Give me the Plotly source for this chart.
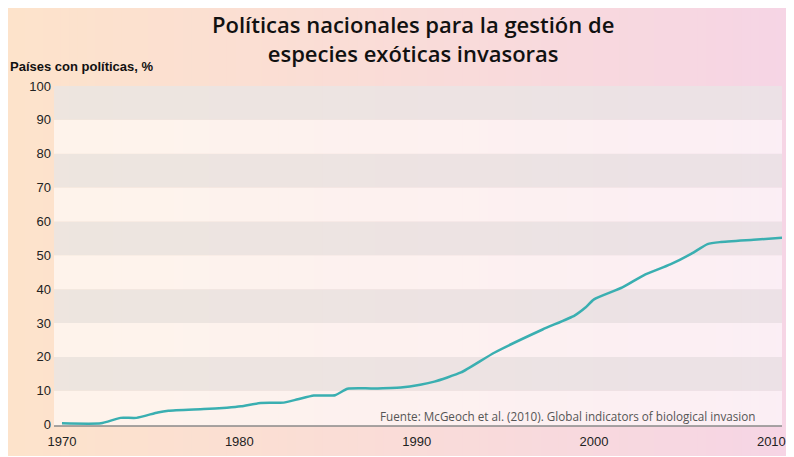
import plotly.graph_objects as go

# Data
years = [1970, 1972.2, 1973.3, 1974.2, 1975.4, 1976.0, 1978.0, 1979.3, 1980.1,
         1981.2, 1982.5, 1983.3, 1984.2, 1985.4, 1986.1, 1987.5, 1989.1, 1990.2,
         1991.0, 1992.5, 1994.4, 1997.1, 1998.9, 1999.5, 2000.0, 2001.6, 2002.8,
         2004.3, 2005.5, 2006.4, 2007.1, 2009.0, 2010.6]
pct_countries = [0.4, 0.4, 2.0, 2.0, 3.6, 4.1, 4.6, 5.0, 5.4,
                 6.4, 6.5, 7.5, 8.6, 8.7, 10.6, 10.7, 11.0, 11.8,
                 12.7, 15.4, 21.3, 28.1, 32.2, 34.5, 37.0, 40.5, 44.1,
                 47.3, 50.5, 53.3, 53.9, 54.6, 55.2]
x_ticks = [1970, 1980, 1990, 2000, 2010]
y_ticks = [0, 10, 20, 30, 40, 50, 60, 70, 80, 90, 100]

title = "Políticas nacionales para la gestión de<br>especies exóticas invasoras"
y_label = "Países con políticas, %"
source = "Fuente: McGeoch et al. (2010). Global indicators of biological invasion"

# the page body has an 8px margin, so the figure sits at (8, 8)
OFF = 8
PAGE_W, PAGE_H = 794, 457
W, H = PAGE_W - OFF, PAGE_H - OFF
# plot area in page pixels: x 54..782, y 86.5..426.5
L, R, T, B = 54 - OFF, PAGE_W - 782, 86 - OFF, PAGE_H - 426
pw, ph = W - L - R, H - T - B

def px_x(p):  # page pixel -> paper x
    return (p - OFF - L) / pw

def px_y(p):  # page pixel -> paper y
    return (H - B - (p - OFF)) / ph

# background gradient peach -> pink, drawn as thin strips
c0 = (253, 227, 203)
c1 = (246, 213, 229)
shapes = []
n = 90
x_start, x_end = OFF, PAGE_W
for i in range(n):
    t = i / (n - 1)
    col = tuple(round(a + (b - a) * t) for a, b in zip(c0, c1))
    xa = x_start + (x_end - x_start) * i / n
    xb = x_start + (x_end - x_start) * (i + 1) / n + 1
    shapes.append(dict(type="rect", xref="paper", yref="paper",
                       x0=px_x(xa), x1=px_x(xb), y0=px_y(PAGE_H - 1), y1=px_y(OFF),
                       fillcolor="rgb(%d,%d,%d)" % col, line_width=0, layer="below"))

# alternating horizontal bands
for lo in range(0, 100, 10):
    dark = (lo // 10) % 2 == 1
    shapes.append(dict(type="rect", xref="paper", yref="y",
                       x0=0, x1=1, y0=lo if lo else -0.4, y1=lo + 10,
                       fillcolor="rgba(232,230,230,0.72)" if dark else "rgba(255,255,255,0.6)",
                       line_width=0, layer="below"))

fig = go.Figure()
fig.add_trace(go.Scatter(x=years, y=pct_countries, mode="lines",
                         line=dict(color="#3aafb1", width=2.5, shape="spline", smoothing=0.5),
                         hoverinfo="x+y"))

fig.update_layout(
    width=W, height=H,
    margin=dict(l=L, r=R, t=T, b=B),
    paper_bgcolor="white",
    plot_bgcolor="rgba(0,0,0,0)",
    showlegend=False,
    shapes=shapes,
    font=dict(family="Liberation Sans, Arial", size=13, color="#222"),
    xaxis=dict(range=[1969.55, 2010.6], tickvals=x_ticks, showgrid=False,
               zeroline=False, showline=False, ticks="", ticklabelstandoff=6,
               automargin=False, tickfont=dict(size=13, color="#222")),
    yaxis=dict(range=[-0.4, 100], tickvals=y_ticks, showgrid=False,
               zeroline=False, showline=False, ticks="", ticklabelstandoff=2,
               automargin=False, tickfont=dict(size=13, color="#222")),
    annotations=[
        dict(text=title, xref="paper", yref="paper",
             x=px_x(413), y=px_y(38), xanchor="center", yanchor="middle",
             showarrow=False,
             font=dict(family="Open Sans", size=22, color="#111", weight=600)),
        dict(text="<b>" + y_label + "</b>", xref="paper", yref="paper",
             x=px_x(8), y=px_y(67), xanchor="left", yanchor="middle",
             showarrow=False, font=dict(size=13, color="#111")),
        dict(text=source, xref="paper", yref="paper",
             x=px_x(378), y=px_y(416), xanchor="left", yanchor="middle",
             showarrow=False, font=dict(family="Open Sans", size=11.7, color="#555")),
    ],
)
# bottom axis line
fig.add_shape(type="line", xref="paper", yref="paper", x0=0, x1=1, y0=0, y1=0,
              line=dict(color="#8a8a8a", width=1.5))

fig.write_html("out.html")
